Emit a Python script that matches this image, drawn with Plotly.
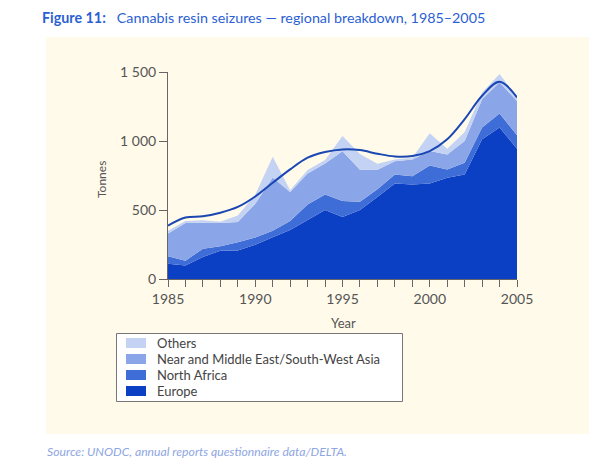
import plotly.graph_objects as go

years = list(range(1985, 2006))
europe = [110, 97, 160, 205, 206, 248, 303, 355, 428, 500, 450, 500, 595, 692, 684, 692, 733, 757, 1012, 1097, 944]
north_africa = [55, 35, 60, 32, 60, 52, 47, 65, 112, 112, 116, 60, 55, 65, 61, 131, 61, 85, 85, 102, 97]
near_middle_east = [165, 273, 188, 168, 147, 246, 385, 211, 225, 225, 359, 232, 142, 97, 121, 104, 109, 158, 206, 226, 249]
others = [20, 15, 17, 10, 47, 64, 151, 12, 24, 25, 111, 113, 43, 12, 13, 129, 41, 66, 49, 60, 28]
trend = [386, 445, 454, 480, 522, 598, 697, 794, 879, 920, 939, 934, 908, 888, 891, 927, 1012, 1158, 1328, 1430, 1316]

series_names = ["Europe", "North Africa", "Near and Middle East/South-West Asia", "Others"]
series_values = [europe, north_africa, near_middle_east, others]
colors = ["#0b3fc4", "#3f6dd8", "#8ba6e8", "#c4d3f4"]

y_tickvals = [0, 500, 1000, 1500]
y_ticktext = ["0", "500", "1 000", "1 500"]
x_ticktext = [str(y) if y % 5 == 0 else "" for y in years]

# page body has an 8px default margin; work in window pixels and shift
OFF = 8
W, H = 605 - OFF, 467 - OFF
L, R, T, B = 168 - OFF, 517 - OFF, 72 - OFF, 279 - OFF
FONT = "Lato"


def px(x):
    return (x - OFF - L) / (R - L)


def py(y):
    return (B - (y - OFF)) / (B - T)


fig = go.Figure()
for name, vals, col in zip(series_names, series_values, colors):
    fig.add_trace(go.Scatter(
        x=years, y=vals, name=name, stackgroup="one", mode="lines",
        line=dict(width=0, color=col), fillcolor=col, showlegend=False,
        hoverinfo="skip"))

fig.add_trace(go.Scatter(
    x=years, y=trend, mode="lines", line=dict(color="#1a47b2", width=2, shape="spline", smoothing=1.0),
    showlegend=False, hoverinfo="skip"))

shapes = [
    dict(type="rect", xref="paper", yref="paper", x0=px(46), x1=px(589), y0=py(434), y1=py(37),
         fillcolor="#fffaea", line=dict(width=0), layer="below"),
    dict(type="rect", xref="paper", yref="paper", x0=px(116.5), x1=px(402.5), y0=py(401.5), y1=py(333.5),
         fillcolor="white", line=dict(width=1, color="#777777"), layer="above"),
]
annotations = []
legend_items = list(zip(series_names, colors))[::-1]
for i, (name, col) in enumerate(legend_items):
    yc = 343 + 16 * i
    shapes.append(dict(type="rect", xref="paper", yref="paper", x0=px(126), x1=px(146),
                       y0=py(yc + 5), y1=py(yc - 5), fillcolor=col, line=dict(width=0), layer="above"))
    annotations.append(dict(text=name, xref="paper", yref="paper", x=px(155), y=py(yc),
                            xanchor="left", yanchor="middle", showarrow=False,
                            font=dict(family=FONT, size=13, color="#444444")))

annotations += [
    dict(text="<b>Figure 11:</b>   Cannabis resin seizures — regional breakdown, 1985–2005",
         xref="paper", yref="paper", x=px(40), y=py(18), xanchor="left", yanchor="middle",
         showarrow=False, font=dict(family=FONT, size=14.3, color="#2b5fd3")),
    dict(text="Tonnes", xref="paper", yref="paper", x=px(101), y=py(180), textangle=-90,
         xanchor="center", yanchor="middle", showarrow=False,
         font=dict(family=FONT, size=12, color="#555555")),
    dict(text="Year", xref="paper", yref="paper", x=px(343), y=py(323),
         xanchor="center", yanchor="middle", showarrow=False,
         font=dict(family=FONT, size=13, color="#555555")),
    dict(text="<i>Source: UNODC, annual reports questionnaire data/DELTA.</i>",
         xref="paper", yref="paper", x=px(45), y=py(451), xanchor="left", yanchor="middle",
         showarrow=False, font=dict(family=FONT, size=12.2, color="#8ea6e2")),
]

fig.update_layout(
    width=W, height=H,
    margin=dict(l=L, r=W - R, t=T, b=H - B, pad=0),
    paper_bgcolor="white", plot_bgcolor="rgba(0,0,0,0)",
    shapes=shapes, annotations=annotations, showlegend=False,
    xaxis=dict(range=[1985, 2005], tickvals=years, ticktext=x_ticktext, ticks="outside",
               ticklen=7, tickcolor="#666666", showline=True, linecolor="#666666", linewidth=1,
               showgrid=False, zeroline=False, tickfont=dict(family=FONT, size=14, color="#555555")),
    yaxis=dict(range=[0, 1500], tickvals=y_tickvals, ticktext=y_ticktext, ticks="outside",
               ticklen=8, tickcolor="#666666", showline=True, linecolor="#666666", linewidth=1,
               showgrid=False, zeroline=False, tickfont=dict(family=FONT, size=14, color="#555555")),
)

fig.write_html("out.html")
